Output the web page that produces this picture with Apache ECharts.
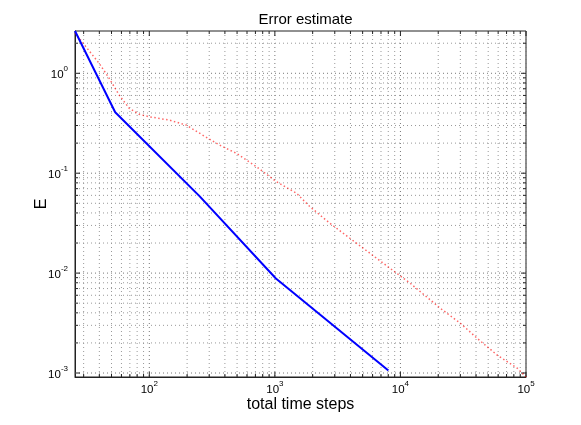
<!DOCTYPE html>
<html>
<head>
<meta charset="utf-8">
<script src="https://cdn.jsdelivr.net/npm/echarts@6/dist/echarts.min.js"></script>
<style>html,body{margin:0;padding:0;background:#fff}#c{width:581px;height:425px}</style>
</head>
<body>
<div id="c"></div>
<script>
// ---- data ----
var blueX = [25.6, 53.5, 251, 1019, 8017];
var blueY = [2.65, 0.407, 0.059, 0.00883, 0.00106];

var redX = [25.6, 31.2, 39.8, 47.9, 57.5, 69.2, 83.2, 100, 144.5, 196.6, 265.5, 363, 494, 714, 1032, 1491, 1905, 2754, 3981, 5754, 8318, 12023, 20893, 30200, 41080, 59380, 85820, 100000];
var redY = [2.53, 1.85, 1.26, 0.891, 0.606, 0.446, 0.388, 0.367, 0.340, 0.303, 0.241, 0.191, 0.158, 0.116, 0.082, 0.0628, 0.0461, 0.0314, 0.0222, 0.0157, 0.0111, 0.00787, 0.00442, 0.00313, 0.00221, 0.00150, 0.00111, 0.000912];

var xMajorTicks = [100, 1000, 10000, 100000];
var yMajorTicks = [0.001, 0.01, 0.1, 1];
var xDecades = [10, 100, 1000, 10000, 100000];
var yDecades = [0.0001, 0.001, 0.01, 0.1, 1];
var minorMultipliers = [2, 3, 4, 5, 6, 7, 8, 9];

var xMin = 25.6, xMax = 100000;
var yMin = 0.000912, yMax = 2.65;

function zip(a, b) { return a.map(function (v, i) { return [v, b[i]]; }); }

function buildTicks(decades, lo, hi) {
  var major = [], minor = [];
  decades.forEach(function (d) {
    if (d >= lo * 0.9999 && d <= hi * 1.0001) major.push(d);
    minorMultipliers.forEach(function (m) {
      var v = d * m;
      if (v > lo && v < hi) minor.push(v);
    });
  });
  return { major: major, minor: minor };
}
var xT = buildTicks(xDecades, xMin, xMax);
var yT = buildTicks(yDecades, yMin, yMax);

var FONT = 'Liberation Sans';

function expLabel(v) {
  var e = Math.round(Math.log10(v));
  return '{b|10}{e|' + e + '}';
}
var richLabel = {
  b: { fontSize: 11.5, fontFamily: FONT, color: '#000', lineHeight: 16, verticalAlign: 'bottom' },
  e: { fontSize: 8, fontFamily: FONT, color: '#000', lineHeight: 8, verticalAlign: 'top' }
};

var chart = echarts.init(document.getElementById('c'), null, { renderer: 'canvas' });

function renderDecor(params, api) {
  var cs = params.coordSys;
  var x0 = cs.x, y0 = cs.y, x1 = cs.x + cs.width, y1 = cs.y + cs.height;
  var children = [];
  var majorGrid = { stroke: '#777', lineWidth: 1, lineDash: [1, 3] };
  var minorGrid = { stroke: '#999', lineWidth: 1, lineDash: [1, 3] };
  var tickStyle = { stroke: '#222', lineWidth: 1 };
  function vline(v, major) {
    var px = api.coord([v, yMin])[0];
    children.push({ type: 'line', shape: { x1: px, y1: y0, x2: px, y2: y1 }, style: major ? majorGrid : minorGrid });
    var L = major ? 5 : 3;
    children.push({ type: 'line', shape: { x1: px, y1: y1, x2: px, y2: y1 - L }, style: tickStyle });
    children.push({ type: 'line', shape: { x1: px, y1: y0, x2: px, y2: y0 + L }, style: tickStyle });
  }
  function hline(v, major) {
    var py = api.coord([xMin, v])[1];
    children.push({ type: 'line', shape: { x1: x0, y1: py, x2: x1, y2: py }, style: major ? majorGrid : minorGrid });
    var L = major ? 5 : 3;
    children.push({ type: 'line', shape: { x1: x0, y1: py, x2: x0 + L, y2: py }, style: tickStyle });
    children.push({ type: 'line', shape: { x1: x1, y1: py, x2: x1 - L, y2: py }, style: tickStyle });
  }
  xT.minor.forEach(function (v) { vline(v, false); });
  xT.major.forEach(function (v) { vline(v, true); });
  yT.minor.forEach(function (v) { hline(v, false); });
  yT.major.forEach(function (v) { hline(v, true); });
  return { type: 'group', children: children, silent: true };
}

chart.setOption({
  animation: false,
  backgroundColor: '#fff',
  title: {
    text: 'Error estimate',
    left: 300.5, top: 7, textAlign: 'center',
    textStyle: { fontFamily: FONT, fontSize: 15, fontWeight: 'normal', color: '#000' }
  },
  grid: { left: 75, right: 55, top: 31, bottom: 48, show: true, borderColor: '#222', borderWidth: 1, containLabel: false },
  xAxis: {
    type: 'log', min: xMin, max: xMax, logBase: 10,
    name: 'total time steps', nameLocation: 'middle', nameGap: 20, nameMoveOverlap: false,
    nameTextStyle: { fontFamily: FONT, fontSize: 16, color: '#000' },
    axisLine: { show: true, lineStyle: { color: '#222', width: 1 } },
    axisTick: { show: false },
    splitLine: { show: false },
    minorTick: { show: false }, minorSplitLine: { show: false },
    axisLabel: { customValues: xMajorTicks, formatter: expLabel, rich: richLabel, margin: 3, hideOverlap: false }
  },
  yAxis: {
    type: 'log', min: yMin, max: yMax, logBase: 10,
    name: 'E', nameLocation: 'middle', nameGap: 25, nameRotate: 90, nameMoveOverlap: false,
    nameTextStyle: { fontFamily: FONT, fontSize: 16, color: '#000' },
    axisLine: { show: true, lineStyle: { color: '#222', width: 1 } },
    axisTick: { show: false },
    splitLine: { show: false },
    minorTick: { show: false }, minorSplitLine: { show: false },
    axisLabel: { customValues: yMajorTicks, formatter: expLabel, rich: richLabel, margin: 7, hideOverlap: false }
  },
  series: [
    {
      type: 'custom', name: 'decor', renderItem: renderDecor,
      data: [[100, 0.01]], clip: false, silent: true, z: 1,
      encode: { x: 0, y: 1 }
    },
    {
      type: 'line', name: 'red', data: zip(redX, redY), showSymbol: false, z: 3,
      lineStyle: { color: 'rgba(255,0,0,0.6)', width: 1.5, type: [1.5, 2.5] }
    },
    {
      type: 'line', name: 'blue', data: zip(blueX, blueY), showSymbol: false, z: 4,
      lineStyle: { color: '#0000ff', width: 2, type: 'solid' }
    }
  ]
});
</script>
</body>
</html>
